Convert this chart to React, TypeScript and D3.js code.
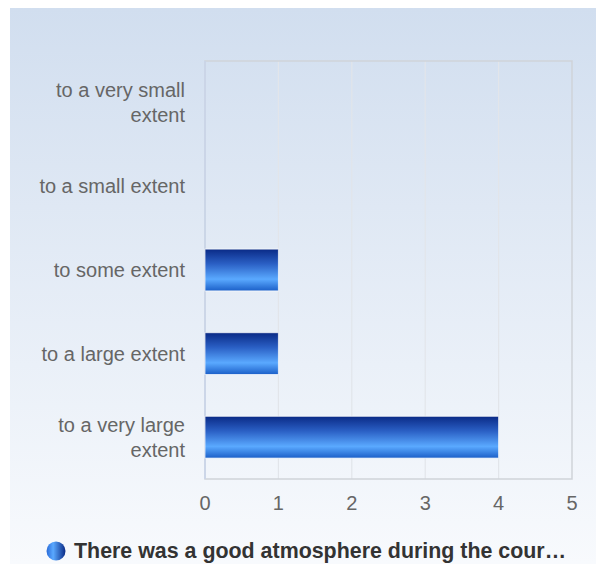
import { useEffect } from 'react'
import * as d3 from 'd3'

const categories = [
  'to a very small extent',
  'to a small extent',
  'to some extent',
  'to a large extent',
  'to a very large extent',
]
const labelLines = [
  ['to a very small', 'extent'],
  ['to a small extent'],
  ['to some extent'],
  ['to a large extent'],
  ['to a very large', 'extent'],
]
const counts = [0, 0, 1, 1, 4]
const xTicks = [0, 1, 2, 3, 4, 5]
const seriesName = 'There was a good atmosphere during the cour…'

export default function App() {
  useEffect(() => {
    document.body.style.margin = '0'
  }, [])

  const W = 596
  const H = 564
  const margin = { top: 61, right: 24, bottom: 85, left: 205 }
  const innerW = W - margin.left - margin.right
  const innerH = H - margin.top - margin.bottom

  const x = d3.scaleLinear().domain([0, 5]).range([0, innerW])
  const y = d3.scaleBand().domain(categories).range([0, innerH]).paddingInner(0.5).paddingOuter(0.25)

  const font = "'Liberation Sans', Arial, Helvetica, sans-serif"

  return (
    <svg width={W} height={H} style={{ display: 'block' }}>
      <defs>
        <linearGradient id="bg" x1="0" y1="0" x2="0" y2="1">
          <stop offset="0" stopColor="#d1deef" />
          <stop offset="1" stopColor="#f8fafd" />
        </linearGradient>
        <linearGradient id="bar" x1="0" y1="0" x2="0" y2="1">
          <stop offset="0" stopColor="#0a2a86" />
          <stop offset="0.35" stopColor="#2a5fc4" />
          <stop offset="0.72" stopColor="#5aa9ff" />
          <stop offset="1" stopColor="#1b5fc8" />
        </linearGradient>
        <linearGradient id="dot" x1="0" y1="0" x2="1" y2="0">
          <stop offset="0" stopColor="#2a6ad8" />
          <stop offset="0.35" stopColor="#5aa9ff" />
          <stop offset="1" stopColor="#0a2a86" />
        </linearGradient>
      </defs>
      <rect x={10} y={8} width={W - 10} height={H - 8} fill="url(#bg)" />
      <g transform={`translate(${margin.left},${margin.top})`}>
        {xTicks.slice(1, -1).map(t => (
          <line key={t} x1={x(t)} x2={x(t)} y1={0} y2={innerH} stroke="#e2e5ea" strokeWidth={1.2} />
        ))}
        <rect x={0} y={0} width={innerW} height={innerH} fill="none" stroke="#cfd3d9" strokeWidth={1.5} />
        <line x1={0} x2={0} y1={0} y2={innerH} stroke="#c8d4ea" strokeWidth={1.5} />
        {categories.map((c, i) =>
          counts[i] > 0 ? (
            <rect
              key={c}
              x={x(0)}
              y={y(c) || 0}
              width={x(counts[i]) - x(0)}
              height={y.bandwidth()}
              fill="url(#bar)"
              stroke="#ffffff"
              strokeOpacity={0.7}
              strokeWidth={1}
            />
          ) : null
        )}
        {categories.map((c, i) => {
          const lines = labelLines[i]
          const cy = (y(c) || 0) + y.bandwidth() / 2
          const lh = 25
          const start = cy - ((lines.length - 1) * lh) / 2
          return (
            <text
              key={c}
              x={-20}
              textAnchor="end"
              fill="#666666"
              fontSize={20}
              fontFamily={font}
            >
              {lines.map((l, j) => (
                <tspan key={j} x={-20} y={start + j * lh} dy="0.35em">
                  {l}
                </tspan>
              ))}
            </text>
          )
        })}
        {xTicks.map(t => (
          <text
            key={t}
            x={x(t)}
            y={innerH + 24}
            dy="0.35em"
            textAnchor="middle"
            fill="#666666"
            fontSize={20}
            fontFamily={font}
          >
            {t}
          </text>
        ))}
      </g>
      <circle cx={56} cy={551} r={9.5} fill="url(#dot)" />
      <text x={74} y={551} dy="0.35em" fill="#333333" fontSize={21.4} fontWeight="bold" fontFamily={font}>
        {seriesName}
      </text>
    </svg>
  )
}
